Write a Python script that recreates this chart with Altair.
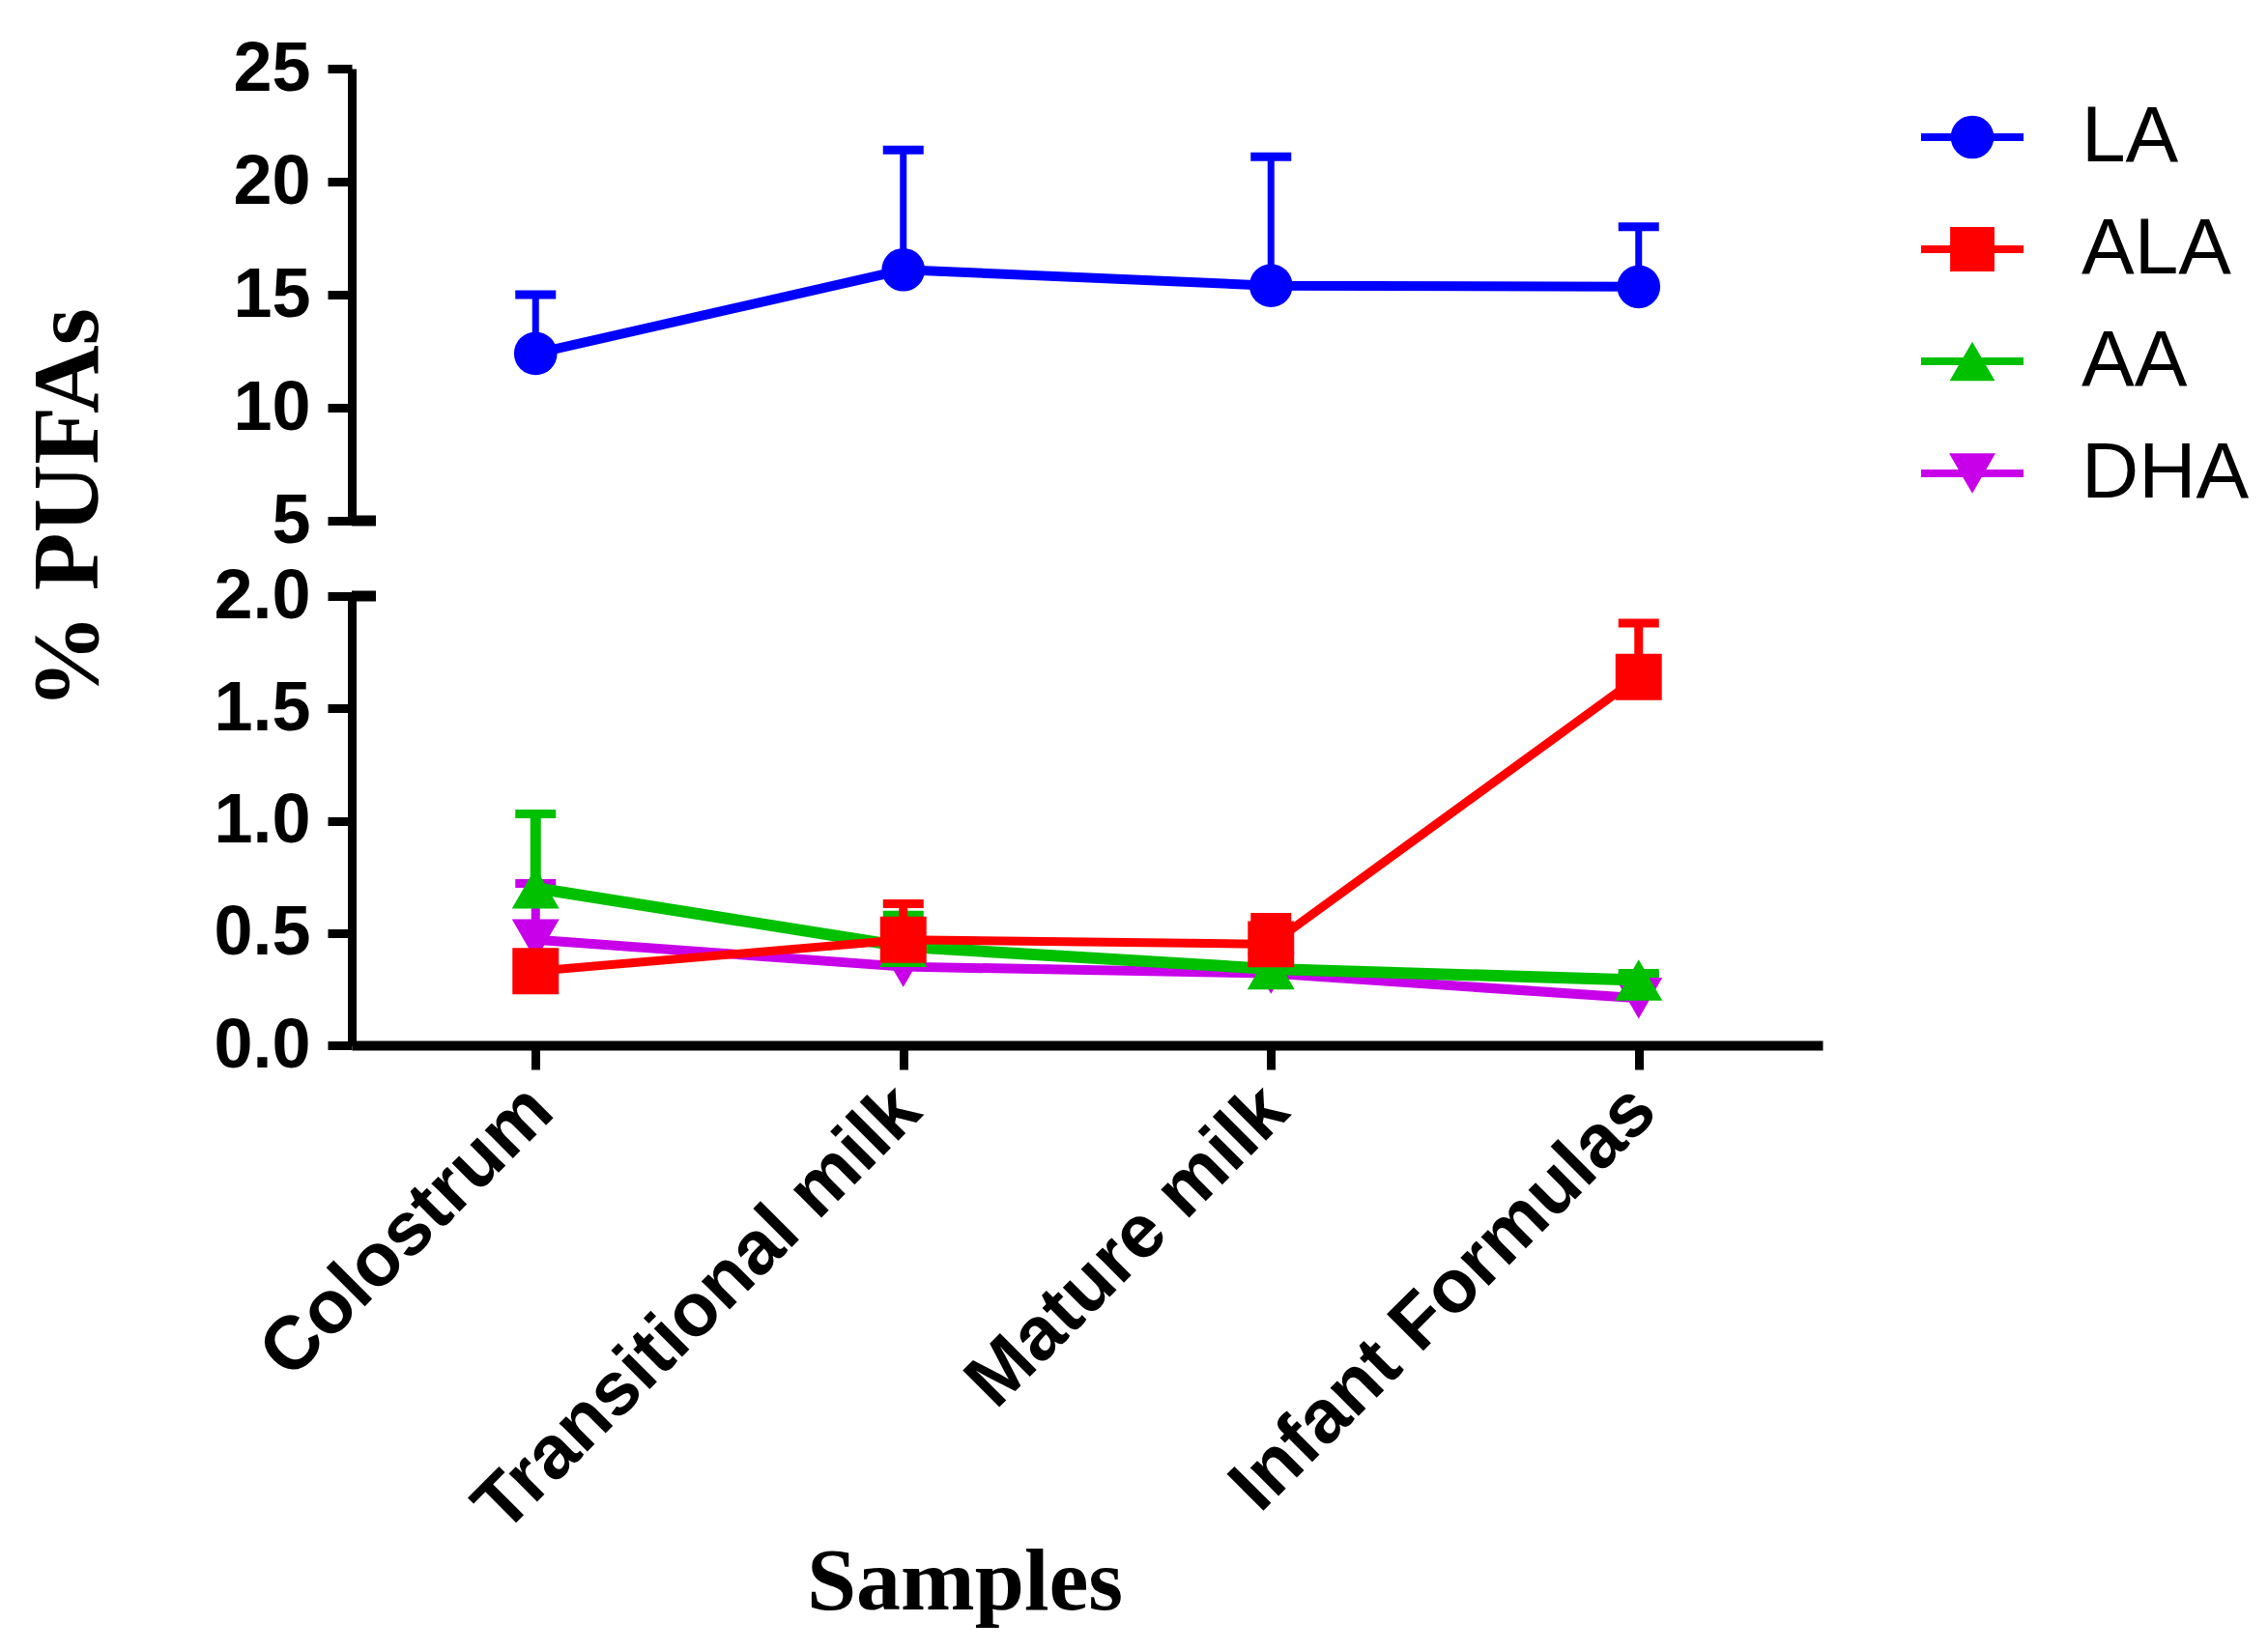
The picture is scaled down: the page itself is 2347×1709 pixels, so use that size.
import altair as alt
import pandas as pd

samples = ["Colostrum", "Transitional milk", "Mature milk", "Infant Formulas"]
series = ["LA", "ALA", "AA", "DHA"]
colors = ["#0000FF", "#FF0000", "#00C000", "#C800EA"]
shapes = ["circle", "square", "triangle-up", "triangle-down"]
sizes = [2000, 2300, 2400, 2400]
line_w = [10, 9, 12, 10]
err_w = [7, 9, 11, 9]

la_mean = [12.4, 16.1, 15.4, 15.35]
la_upper = [15.0, 21.4, 21.1, 18.0]
ala_mean = [0.33, 0.47, 0.45, 1.64]
ala_upper = [0.38, 0.63, 0.57, 1.88]
aa_mean = [0.70, 0.44, 0.34, 0.29]
aa_upper = [1.03, 0.58, 0.40, 0.32]
dha_mean = [0.47, 0.35, 0.32, 0.21]
dha_upper = [0.72, 0.40, 0.36, 0.31]

means = {"LA": la_mean, "ALA": ala_mean, "AA": aa_mean, "DHA": dha_mean}
uppers = {"LA": la_upper, "ALA": ala_upper, "AA": aa_upper, "DHA": dha_upper}

rows = []
for s in series:
    for i, smp in enumerate(samples):
        rows.append({"sample": smp, "series": s, "mean": means[s][i], "upper": uppers[s][i]})
df = pd.DataFrame(rows)

SANS = "Liberation Sans"
SERIF = "Liberation Serif"

x_scale = alt.Scale(type="point", padding=0.5)

upper_y_scale = alt.Scale(domain=[5, 25], nice=False, zero=False)
lower_y_scale = alt.Scale(domain=[0, 2], nice=False, zero=True)

common_axis = dict(
    domainColor="black", domainWidth=9, tickColor="black", tickWidth=9, tickSize=25,
    labelFont=SANS, labelFontWeight="bold", labelFontSize=72, labelColor="black",
    labelPadding=18, grid=False,
)

upper_y_axis = alt.Axis(
    values=[5, 10, 15, 20, 25], **common_axis,
    title="% PUFAs", titleFont=SERIF, titleFontSize=98, titleFontWeight="bold",
    titleColor="black", titleAngle=270, titleX=-293, titleY=455,
    titleAlign="center", titleBaseline="middle",
)
lower_y_axis = alt.Axis(values=[0, 0.5, 1.0, 1.5, 2.0], format=".1f", title=None, **common_axis)

lower_x_axis = alt.Axis(
    domainColor="black", domainWidth=10, tickColor="black", tickWidth=9, tickSize=25,
    labelFont=SANS, labelFontWeight="bold", labelFontSize=78, labelColor="black",
    labelAngle=-45, labelAlign="right", labelBaseline="middle", labelPadding=30,
    labelOffset=5, labelLimit=0, labelOverlap=False, grid=False,
    title="Samples", titleFont=SERIF, titleFontSize=92, titleFontWeight="bold",
    titleColor="black", titleX=634, titleY=583, titleAlign="center",
    titleBaseline="alphabetic",
)


def series_layers(name, y_scale, y_axis, x_axis):
    i = series.index(name)
    sub = df[df["series"] == name]
    X = alt.X("sample:N", sort=samples, scale=x_scale, axis=x_axis, title=None)

    def Y(field):
        return alt.Y(field, type="quantitative", scale=y_scale, axis=y_axis)

    base = alt.Chart(sub).encode(x=X)
    line = base.mark_line(color=colors[i], strokeWidth=line_w[i]).encode(y=Y("mean"))
    err = base.mark_rule(color=colors[i], strokeWidth=err_w[i]).encode(y=Y("mean"), y2="upper:Q")
    cap = base.mark_tick(color=colors[i], thickness=9, size=42, opacity=1).encode(y=Y("upper"))
    pt = base.mark_point(shape=shapes[i], filled=True, size=sizes[i], color=colors[i],
                         opacity=1, strokeWidth=0).encode(y=Y("mean"))
    return [line, err, cap, pt]


def break_mark(data, val):
    return alt.Chart(data).mark_rule(color="black", strokeWidth=11).encode(
        x=alt.value(0), x2=alt.value(25), y=alt.datum(val)
    )


upper_layers = series_layers("LA", upper_y_scale, upper_y_axis, None)
upper = alt.layer(
    *upper_layers, break_mark(df[df["series"] == "LA"].head(1), 5)
).properties(width=1522, height=468)

lower_layers = []
for name in ["DHA", "AA", "ALA"]:
    lower_layers += series_layers(name, lower_y_scale, lower_y_axis, lower_x_axis)
lower = alt.layer(
    *lower_layers, break_mark(df[df["series"] == "ALA"].head(1), 2)
).properties(width=1522, height=465)

legend_df = pd.DataFrame({"series": series})
leg_y = alt.Y("series:N", sort=series, scale=alt.Scale(type="point", padding=0.612), axis=None)
leg_color = alt.Color("series:N", scale=alt.Scale(domain=series, range=colors), legend=None)
leg_shape = alt.Shape("series:N", scale=alt.Scale(domain=series, range=shapes), legend=None)
leg_size = alt.Size("series:N", scale=alt.Scale(domain=series, range=sizes), legend=None)
leg_base = alt.Chart(legend_df).encode(y=leg_y)
leg_rule = leg_base.mark_rule(strokeWidth=8).encode(x=alt.value(0), x2=alt.value(106), color=leg_color)
leg_pt = leg_base.mark_point(filled=True, opacity=1, strokeWidth=0).encode(
    x=alt.value(53), color=leg_color, shape=leg_shape, size=leg_size
)
leg_text = leg_base.mark_text(align="left", baseline="middle", font=SANS, fontSize=82,
                              color="black").encode(x=alt.value(166), text="series:N")
legend = alt.layer(leg_rule, leg_pt, leg_text).properties(width=330, height=490)

left = alt.vconcat(upper, lower, spacing=78, bounds="flush")
chart = alt.hconcat(left, legend, spacing=98).properties(
    padding={"left": 14, "top": 27, "right": 5, "bottom": 5},
    background="white",
).configure_view(stroke=None)

chart.save("out.html", embed_options={"renderer": "svg", "actions": False})
